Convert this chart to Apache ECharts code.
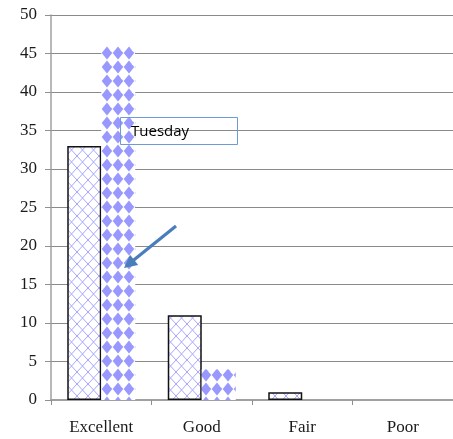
<!DOCTYPE html>
<html>
<head>
<meta charset="utf-8">
<script src="https://cdn.jsdelivr.net/npm/echarts@6/dist/echarts.min.js"></script>
<style>
  html, body { margin: 0; padding: 0; background: #fff; }
  #chart { width: 453px; height: 439px; }
</style>
</head>
<body>
<div id="chart"></div>
<script>
// Ratings per category for the two days
const categories = ['Excellent', 'Good', 'Fair', 'Poor'];
const seriesA = [33, 11, 1, 0];
const seriesB = [46, 4, 0, 0];
const yTicks = { min: 0, max: 50, step: 5 };
const calloutText = 'Tuesday';

// Light blue crosshatch tile
function crosshatchTile() {
  const w = 11, h = 12;
  const c = document.createElement('canvas');
  c.width = w; c.height = h;
  const g = c.getContext('2d');
  g.fillStyle = '#ffffff';
  g.fillRect(0, 0, w, h);
  g.strokeStyle = '#a6a6ff';
  g.lineWidth = 1;
  g.beginPath();
  g.moveTo(0, 0); g.lineTo(w, h);
  g.moveTo(w, 0); g.lineTo(0, h);
  g.stroke();
  return c;
}

// Solid diamonds on white
function diamondTile() {
  const w = 11, h = 14;
  const cx = 8, cy = 11;
  const c = document.createElement('canvas');
  c.width = w; c.height = h;
  const g = c.getContext('2d');
  g.fillStyle = '#ffffff';
  g.fillRect(0, 0, w, h);
  g.fillStyle = '#9898ff';
  for (let dx = -1; dx <= 1; dx++) {
    for (let dy = -1; dy <= 1; dy++) {
      const x = cx + dx * w, y = cy + dy * h;
      g.beginPath();
      g.moveTo(x, y - 6.6);
      g.lineTo(x + 5.3, y);
      g.lineTo(x, y + 6.6);
      g.lineTo(x - 5.3, y);
      g.closePath();
      g.fill();
    }
  }
  return c;
}

const hatch = { image: crosshatchTile(), repeat: 'repeat' };
const diamonds = { image: diamondTile(), repeat: 'repeat' };

const chart = echarts.init(document.getElementById('chart'), null, { renderer: 'canvas' });

const serif = 'Liberation Serif';

chart.setOption({
  animation: false,
  backgroundColor: '#ffffff',
  grid: { left: 51, right: -1, top: 15, bottom: 39, containLabel: false },
  xAxis: {
    type: 'category',
    data: categories,
    boundaryGap: true,
    axisLine: { show: true, lineStyle: { color: '#a0a0a0', width: 2 } },
    axisTick: { show: true, length: 5, alignWithLabel: false, lineStyle: { color: '#909090' } },
    axisLabel: { fontFamily: serif, fontSize: 17, color: '#1a1a1a', margin: 19 },
    splitLine: { show: false }
  },
  yAxis: {
    type: 'value',
    min: yTicks.min,
    max: yTicks.max,
    interval: yTicks.step,
    axisLine: { show: true, lineStyle: { color: '#a0a0a0', width: 1.5 } },
    axisTick: { show: true, length: 6, lineStyle: { color: '#909090' } },
    axisLabel: { fontFamily: serif, fontSize: 17, color: '#1a1a1a', margin: 14 },
    splitLine: { show: true, lineStyle: { color: '#8a8a8a', width: 1.2 } }
  },
  series: [
    {
      name: 'A',
      type: 'bar',
      barWidth: 34,
      barGap: '0%',
      data: seriesA.map(v => ({
        value: v,
        itemStyle: v === 0 ? { borderWidth: 0 } : {}
      })),
      itemStyle: { color: hatch, borderColor: '#111111', borderWidth: 1.5 }
    },
    {
      name: 'B',
      type: 'bar',
      barWidth: 34,
      barGap: '0%',
      data: seriesB,
      itemStyle: { color: diamonds, borderWidth: 0 }
    }
  ]
});

// Callout box and pointer arrow
const tail = [176, 226];
const tip = [124, 268];
const ang = Math.atan2(tip[1] - tail[1], tip[0] - tail[0]);
const headLen = 13, headHalf = 6.5;
const baseX = tip[0] - headLen * Math.cos(ang);
const baseY = tip[1] - headLen * Math.sin(ang);
const nx = -Math.sin(ang), ny = Math.cos(ang);

chart.setOption({
  graphic: [
    {
      type: 'rect',
      shape: { x: 120.5, y: 117.5, width: 117, height: 27 },
      style: { fill: 'rgba(0,0,0,0)', stroke: '#6f9bd4', lineWidth: 1 },
      z: 100
    },
    {
      type: 'text',
      x: 131, y: 132,
      style: {
        text: calloutText,
        fontFamily: 'Open Sans',
        fontSize: 15,
        fill: '#000000',
        textVerticalAlign: 'middle',
        verticalAlign: 'middle'
      },
      z: 101
    },
    {
      type: 'line',
      shape: { x1: tail[0], y1: tail[1], x2: baseX + 2 * Math.cos(ang), y2: baseY + 2 * Math.sin(ang) },
      style: { stroke: '#4a7ebb', lineWidth: 3.2 },
      z: 100
    },
    {
      type: 'polygon',
      shape: {
        points: [
          tip,
          [baseX + nx * headHalf, baseY + ny * headHalf],
          [baseX - nx * headHalf, baseY - ny * headHalf]
        ]
      },
      style: { fill: '#4a7ebb' },
      z: 100
    }
  ]
});
</script>
</body>
</html>
